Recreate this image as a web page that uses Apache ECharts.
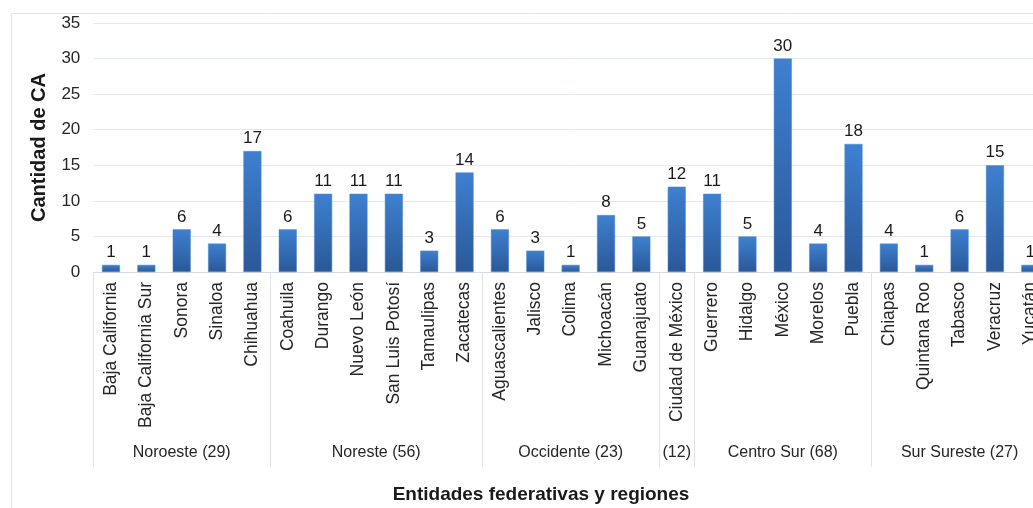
<!DOCTYPE html>
<html>
<head>
<meta charset="utf-8">
<script src="https://cdn.jsdelivr.net/npm/echarts@6/dist/echarts.min.js"></script>
<style>
html,body{margin:0;padding:0;background:#fff;overflow:hidden;width:1033px;height:508px;}
#chart{width:1048px;height:508px;}
</style>
</head>
<body>
<div id="chart"></div>
<script>
var states = ['Baja California','Baja California Sur','Sonora','Sinaloa','Chihuahua','Coahuila','Durango','Nuevo León','San Luis Potosí','Tamaulipas','Zacatecas','Aguascalientes','Jalisco','Colima','Michoacán','Guanajuato','Ciudad de México','Guerrero','Hidalgo','México','Morelos','Puebla','Chiapas','Quintana Roo','Tabasco','Veracruz','Yucatán'];
var values = [1,1,6,4,17,6,11,11,11,3,14,6,3,1,8,5,12,11,5,30,4,18,4,1,6,15,1];
var regions = ['Noroeste (29)','Noreste (56)','Occidente (23)','(12)','Centro Sur (68)','Sur Sureste (27)'];
var regionSizes = [5,6,5,1,5,5];
var yTicks = [0,5,10,15,20,25,30,35];

// half-step category table for region labels and dividers
var halfCats = [], boundaries = [0], centerLabels = {};
var cum = 0;
for (var r = 0; r < regions.length; r++) {
  centerLabels[cum * 2 + regionSizes[r]] = regions[r];
  cum += regionSizes[r];
  boundaries.push(cum * 2);
}
for (var k = 0; k <= states.length * 2; k++) halfCats.push(String(k));

var chart = echarts.init(document.getElementById('chart'));
var FONT = '"Liberation Sans", Arial, sans-serif';
chart.setOption({
  animation: false,
  grid: { left: 93.3, right: 0, top: 23, bottom: 236, containLabel: false },
  graphic: [
    { type: 'rect', shape: { x: 11.5, y: 13.5, width: 1200, height: 700 },
      style: { fill: 'none', stroke: '#dfe5ec', lineWidth: 1 }, z: -10 },
    { type: 'text', x: 541, y: 495,
      style: { text: 'Entidades federativas y regiones', font: 'bold 19px ' + FONT,
               fill: '#1a1a1a', textAlign: 'center', textVerticalAlign: 'middle' } }
  ],
  xAxis: [
    {
      type: 'category', data: states, position: 'bottom', offset: 0,
      axisLine: { show: true, lineStyle: { color: '#d9d9d9', width: 1 } },
      axisTick: { show: false },
      axisLabel: { rotate: 90, margin: 10, interval: 0, fontSize: 17.5,
                   fontFamily: FONT, color: '#262626' }
    },
    {
      type: 'category', data: halfCats, boundaryGap: false, position: 'bottom', offset: 0,
      axisLine: { show: false },
      axisTick: { show: true, length: 195, inside: false,
                  interval: function (i) { return boundaries.indexOf(i) >= 0; },
                  lineStyle: { color: '#dfe3e8', width: 1 } },
      axisLabel: { show: true, margin: 173, fontSize: 16, fontFamily: FONT, color: '#262626',
                   interval: function (i) { return centerLabels[i] !== undefined; },
                   formatter: function (v) { return centerLabels[+v] || ''; } },
      splitLine: { show: false }
    }
  ],
  yAxis: {
    type: 'value', min: yTicks[0], max: yTicks[yTicks.length - 1], interval: 5,
    name: 'Cantidad de CA', nameLocation: 'middle', nameGap: 44,
    nameTextStyle: { fontSize: 20, fontWeight: 'bold', fontFamily: FONT, color: '#1a1a1a' },
    axisLine: { show: false }, axisTick: { show: false },
    axisLabel: { margin: 13, fontSize: 17, fontFamily: FONT, color: '#262626' },
    splitLine: { lineStyle: { color: '#e4e9f0', width: 1 } }
  },
  series: [{
    type: 'bar', xAxisIndex: 0, data: values, barWidth: 18,
    itemStyle: {
      color: new echarts.graphic.LinearGradient(0, 0, 0, 1, [
        { offset: 0, color: '#3e80d0' }, { offset: 1, color: '#2a5898' }
      ]),
      borderColor: '#4f8bd3', borderWidth: 0.5
    },
    label: { show: true, position: 'top', distance: 4, fontSize: 17,
             fontFamily: FONT, color: '#1a1a1a' }
  }]
});
</script>
</body>
</html>
